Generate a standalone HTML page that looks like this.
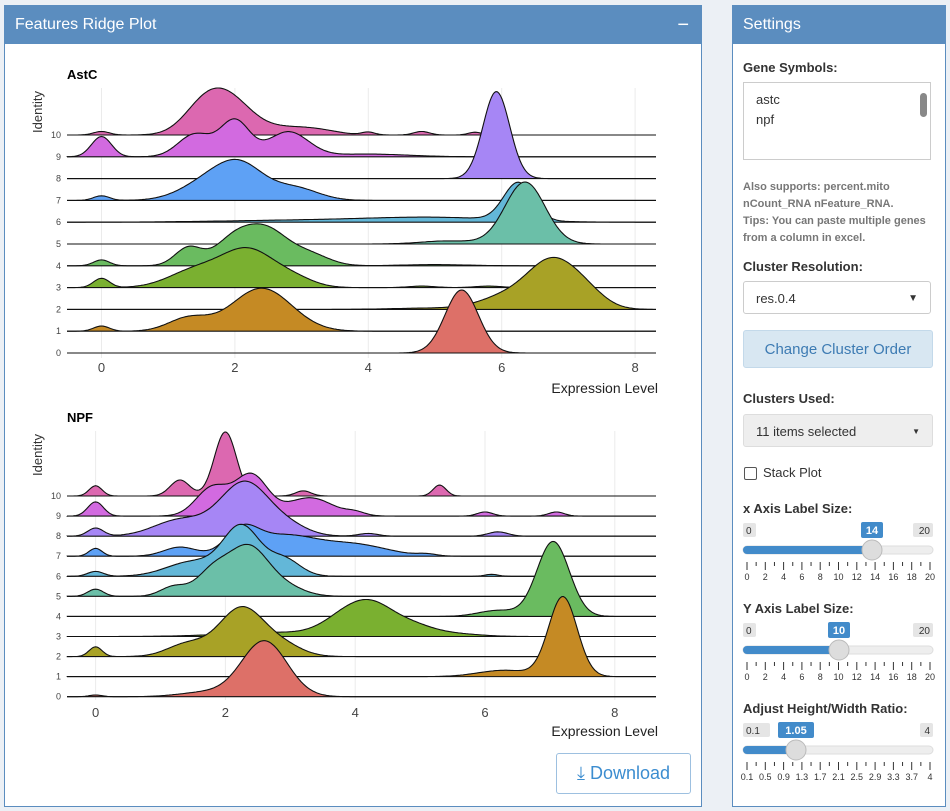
<!DOCTYPE html>
<html><head><meta charset="utf-8">
<style>
body{margin:0;width:950px;height:811px;background:#ecf0f5;font-family:"Liberation Sans",sans-serif;position:relative;overflow:hidden}
.box{position:absolute;background:#fff;border:1px solid #5b8dbf}
.hdr{position:absolute;left:0;top:0;right:0;height:38px;background:#5b8dbf;color:#fff;font-size:16px;line-height:38px;padding-left:10px}
.lbl{position:absolute;left:10px;font-size:13px;font-weight:bold;color:#333}
.abs{position:absolute}
</style></head><body>
<div class="box" style="left:4px;top:5px;width:696px;height:800px">
<div class="hdr">Features Ridge Plot<span style="position:absolute;right:12px;top:0;font-size:20px">−</span></div>
<div class="abs" style="left:551px;top:747px;width:133px;height:39px;border:1px solid #9dc0e0;border-radius:3px;color:#3c8dd0;font-size:18px;line-height:39px;text-align:center">⤓ Download</div>
</div>
<div class="box" style="left:732px;top:5px;width:212px;height:800px">
<div class="hdr">Settings</div>
<div class="lbl" style="top:54px">Gene Symbols:</div>
<div class="abs" style="left:10px;top:76px;width:188px;height:78px;border:1px solid #ccc;font-size:13px;color:#333;line-height:20px;padding:7px 12px;box-sizing:border-box">astc<br>npf
<div class="abs" style="right:3px;top:10px;width:7px;height:24px;background:#888;border-radius:4px"></div></div>
<div class="abs" style="left:10px;top:173px;font-size:11px;font-weight:bold;color:#777;line-height:17px">Also supports: percent.mito<br>nCount_RNA nFeature_RNA.<br>Tips: You can paste multiple genes<br>from a column in excel.</div>
<div class="lbl" style="top:253px">Cluster Resolution:</div>
<div class="abs" style="left:10px;top:275px;width:188px;height:33px;border:1px solid #ccc;border-radius:3px;font-size:13px;line-height:33px;padding-left:12px;box-sizing:border-box;color:#333">res.0.4<span style="position:absolute;right:12px;top:0;font-size:10px">▼</span></div>
<div class="abs" style="left:10px;top:324px;width:190px;height:38px;background:#d8e7f2;border:1px solid #c3d9ea;border-radius:3px;font-size:15px;line-height:38px;text-align:center;color:#3d7bb3;box-sizing:border-box">Change Cluster Order</div>
<div class="lbl" style="top:385px">Clusters Used:</div>
<div class="abs" style="left:10px;top:408px;width:190px;height:33px;background:#eee;border:1px solid #ddd;border-radius:3px;font-size:13px;line-height:33px;padding-left:12px;box-sizing:border-box;color:#333">11 items selected<span style="position:absolute;right:12px;top:0;font-size:8px">▼</span></div>
<div class="abs" style="left:11px;top:461px;width:11px;height:11px;border:1px solid #555;border-radius:2px"></div>
<div class="abs" style="left:30px;top:459px;font-size:13px;color:#333">Stack Plot</div>
<svg class="abs" style="left:0;top:480px" width="212" height="300" id="sl"></svg>
</div>
<svg class="abs" style="left:0;top:0" width="700" height="745" id="pl"></svg>
<script>
var NS="http://www.w3.org/2000/svg";
function el(p,t,a,txt){var e=document.createElementNS(NS,t);for(var k in a)e.setAttribute(k,a[k]);if(txt!=null)e.textContent=txt;p.appendChild(e);return e;}
var cols=["#dd7068","#c58a24","#a8a226","#7ab030","#6abb60","#6bbfa8","#63b7d8","#5ea1f5","#a686f5","#d26ae0","#dc68b0"];
var pl=document.getElementById("pl");
function plot(cfg){
 var x0=cfg.x0,u=cfg.u;
 el(pl,"text",{x:67,y:cfg.ty,"font-size":13,"font-weight":"bold",fill:"#000"},cfg.title);
 el(pl,"text",{x:0,y:0,"font-size":13,fill:"#333",transform:"translate(42,"+cfg.idy+") rotate(-90)","text-anchor":"middle"},"Identity");
 for(var t=0;t<=8;t+=2){var X=x0+t*u;el(pl,"line",{x1:X,x2:X,y1:cfg.g0,y2:cfg.g1,stroke:"#ebebeb","stroke-width":1});
  el(pl,"text",{x:X,y:cfg.tk,"font-size":13,fill:"#444","text-anchor":"middle"},t);}
 el(pl,"text",{x:658,y:cfg.el,"font-size":14,fill:"#222","text-anchor":"end"},"Expression Level");
 for(var r=10;r>=0;r--){
  var b=cfg.b0-r*cfg.sp,comp=cfg.rows[r][1],h=cfg.rows[r][0];
  var pts=[],mx=0;
  for(var px=67;px<=656;px+=1.5){var x=(px-x0)/u,v=0;comp.forEach(function(c){v+=c[2]*Math.exp(-0.5*Math.pow((x-c[0])/c[1],2));});pts.push([px,v]);if(v>mx)mx=v;}
  var d="M67,"+b;pts.forEach(function(p){d+=" L"+p[0].toFixed(1)+","+(b-p[1]/mx*h).toFixed(1);});d+=" L656,"+b;
  el(pl,"path",{d:d+" Z",fill:cols[r],stroke:"none"});
  el(pl,"path",{d:d,fill:"none",stroke:"#111","stroke-width":1.1});
  el(pl,"line",{x1:67,x2:656,y1:b,y2:b,stroke:"#111","stroke-width":1.1});
  el(pl,"text",{x:61,y:b+3,"font-size":9,fill:"#444","text-anchor":"end"},r);
 }
}
plot({title:"AstC",ty:79,idy:112,x0:101.5,u:66.7,g0:88,g1:358,tk:372,el:393,b0:353,sp:21.8,rows:[
 [63,[[5.4,0.25,1]]],
 [43,[[0,0.12,0.12],[1.3,0.3,0.3],[2.4,0.45,1]]],
 [52,[[6.75,0.35,1],[6.1,0.4,0.3],[7.25,0.3,0.35],[5,0.6,0.03]]],
 [40,[[0,0.12,0.25],[1.4,0.4,0.45],[2.2,0.4,1],[2.9,0.3,0.2],[4.8,0.2,0.04],[5.8,0.2,0.04]]],
 [42,[[0,0.12,0.15],[1.3,0.2,0.45],[2.0,0.3,0.7],[2.5,0.3,0.8],[3.1,0.3,0.3],[5,0.5,0.03]]],
 [62,[[6.35,0.3,1],[5.2,0.4,0.05]]],
 [40,[[6.25,0.22,1],[5,1,0.12],[3,1.2,0.05]]],
 [41,[[0,0.12,0.15],[1.6,0.4,0.6],[2.1,0.35,1],[2.9,0.35,0.4]]],
 [87,[[5.92,0.2,1]]],
 [38,[[0,0.15,0.45],[1.4,0.25,0.5],[2.0,0.22,0.8],[2.8,0.3,0.55],[4,0.6,0.06]]],
 [47,[[0,0.12,0.1],[1.5,0.3,0.6],[1.9,0.35,1.0],[2.8,0.4,0.2],[3.3,0.3,0.08],[4.0,0.1,0.08],[4.8,0.12,0.1],[5.6,0.1,0.08]]]
]});
plot({title:"NPF",ty:422,idy:455,x0:95.6,u:64.9,g0:431,g1:700,tk:717,el:736,b0:696.7,sp:20.07,rows:[
 [56,[[2.6,0.35,1],[0,0.1,0.03],[1.7,0.4,0.08]]],
 [80,[[7.2,0.22,1],[6.3,0.4,0.08]]],
 [50,[[0,0.1,0.2],[1.4,0.3,0.25],[2.25,0.35,1],[2.9,0.3,0.2]]],
 [37,[[2.8,0.8,0.15],[3.9,0.35,0.8],[4.3,0.3,0.7],[4.8,0.35,0.45],[5.5,0.4,0.1]]],
 [75,[[7.05,0.25,1],[6.2,0.3,0.08]]],
 [52,[[0,0.12,0.15],[1.2,0.2,0.2],[1.8,0.25,0.5],[2.35,0.3,1],[2.9,0.3,0.2]]],
 [52,[[0,0.12,0.1],[1.5,0.4,0.3],[2.25,0.28,1],[2.9,0.25,0.35],[6.1,0.1,0.04]]],
 [32,[[0,0.1,0.35],[1.3,0.25,0.4],[2.25,0.25,1],[2.9,0.5,0.9],[4,0.5,0.5],[5.1,0.15,0.08]]],
 [55,[[0,0.12,0.15],[1.3,0.4,0.3],[2.3,0.38,1],[3,0.3,0.15],[4.2,0.15,0.05],[6.2,0.15,0.08]]],
 [43,[[0,0.12,0.35],[1.8,0.25,0.7],[2.4,0.25,1],[3.3,0.35,0.45],[4.0,0.15,0.08],[6.0,0.12,0.1],[7.1,0.12,0.1]]],
 [64,[[0,0.1,0.16],[1.3,0.15,0.25],[2.0,0.17,1],[3.2,0.12,0.08],[5.3,0.1,0.17]]]
]});
var sl=document.getElementById("sl");
function slider(y,title,minL,maxL,val,hx,labels){
 el(sl,"text",{x:10,y:y+13,"font-size":13,"font-weight":"bold",fill:"#333"},title);
 el(sl,"rect",{x:10,y:y+23,width:minL.length*7+6,height:14,rx:2,fill:"#e5e5e5"});
 el(sl,"text",{x:13,y:y+34,"font-size":10,fill:"#333"},minL);
 el(sl,"rect",{x:200-maxL.length*7-6,y:y+23,width:maxL.length*7+6,height:14,rx:2,fill:"#e5e5e5"});
 el(sl,"text",{x:197,y:y+34,"font-size":10,fill:"#333","text-anchor":"end"},maxL);
 var w=val.length*7+8;
 el(sl,"rect",{x:hx-w/2,y:y+22,width:w,height:16,rx:2,fill:"#428bca"});
 el(sl,"text",{x:hx,y:y+34,"font-size":11,"font-weight":"bold",fill:"#fff","text-anchor":"middle"},val);
 el(sl,"rect",{x:10,y:y+46,width:190,height:8,rx:4,fill:"#eee",stroke:"#ddd"});
 el(sl,"rect",{x:10,y:y+46,width:hx-10,height:8,rx:4,fill:"#428bca"});
 for(var i=0;i<=labels.length-1;i+=0.5){var X=14+i*(183/(labels.length-1));el(sl,"line",{x1:X,x2:X,y1:y+62,y2:y+(i%1?66:70),stroke:"#333"});}
 labels.forEach(function(l,i){el(sl,"text",{x:14+i*(183/(labels.length-1)),y:y+80,"font-size":9,fill:"#333","text-anchor":"middle"},l);});
 el(sl,"circle",{cx:hx,cy:y+50,r:10,fill:"#ddd",stroke:"#bbb"});
}
var a=["0","2","4","6","8","10","12","14","16","18","20"];
slider(14,"x Axis Label Size:","0","20","14",139,a);
slider(114,"Y Axis Label Size:","0","20","10",106,a);
slider(214,"Adjust Height/Width Ratio:","0.1","4","1.05",63,["0.1","0.5","0.9","1.3","1.7","2.1","2.5","2.9","3.3","3.7","4"]);
</script>
</body></html>
